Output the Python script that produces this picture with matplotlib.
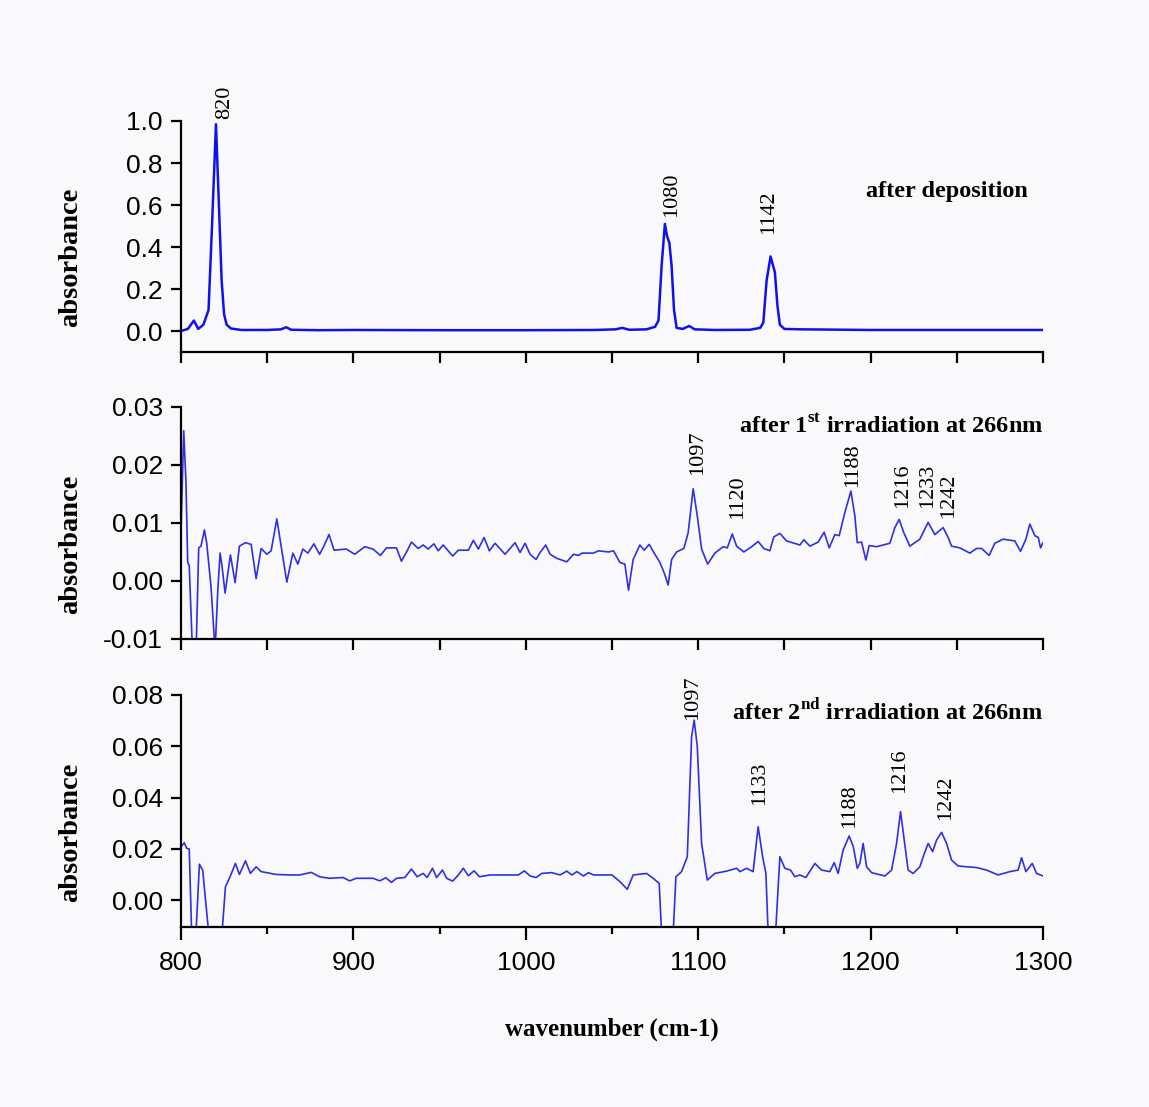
import matplotlib
matplotlib.use("Agg")
import matplotlib.pyplot as plt
from matplotlib.ticker import MultipleLocator

#---------------- data ----------------
# panel 1: after deposition
wn_dep = [800, 804, 807.5, 810, 813, 816, 818, 820.3, 822, 823.6, 825, 826.5, 829, 835,
          850, 858, 861, 864, 880, 900, 950, 1000, 1040, 1052, 1056, 1060, 1070, 1075,
          1077, 1078.8, 1080.7, 1082, 1083.3, 1084.6, 1086, 1087.5, 1091, 1094.8, 1098,
          1110, 1130, 1136, 1137.8, 1139.7, 1142, 1144.5, 1146, 1147.4, 1150, 1160,
          1200, 1250, 1300]
abs_dep = [0.0, 0.01, 0.05, 0.01, 0.03, 0.1, 0.5, 0.985, 0.6, 0.24, 0.08, 0.03, 0.012, 0.005,
           0.005, 0.008, 0.018, 0.006, 0.004, 0.005, 0.004, 0.004, 0.005, 0.008, 0.015, 0.006,
           0.008, 0.02, 0.05, 0.31, 0.51, 0.45, 0.42, 0.31, 0.1, 0.015, 0.01, 0.024, 0.008,
           0.005, 0.006, 0.015, 0.04, 0.24, 0.355, 0.28, 0.12, 0.03, 0.01, 0.008,
           0.005, 0.005, 0.005]

# panel 2: after 1st irradiation
wn_irr1 = [800, 801.6, 802.9, 803.9, 804.8, 806.4, 808.7, 810.3, 811.6, 813.6, 814.9, 817.4,
           819.8, 821.3, 822.7, 823.8, 825.6, 828.7, 831.4, 833.9, 837.4, 840.7, 843.6,
           846.5, 849.8, 852.3, 855.6, 858.1, 861.4, 864.9, 867.8, 870.7, 873.6, 877.1,
           880.4, 882.9, 885.9, 888.8, 895.9, 900.8, 906.6, 911.4, 915.7, 919.2, 925,
           927.9, 931.2, 933.7, 937.6, 940.5, 943.4, 946.7, 949.2, 952.1, 957.6, 960.9,
           966.7, 969.6, 972.5, 975.8, 978.9, 982.2, 988, 993.8, 996.7, 999.6, 1002.5,
           1006, 1008.3, 1011.6, 1014.1, 1018, 1023.8, 1027.7, 1030.6, 1032.6, 1039.3,
           1042.2, 1048.1, 1050.9, 1054.6, 1057.5, 1059.6, 1062.3, 1066.2, 1068.7, 1071.6,
           1074.9, 1077.8, 1080.3, 1082.6, 1084.6, 1087.5, 1091.7, 1094.2, 1097.1, 1099.5,
           1102, 1105.5, 1109.7, 1114.5, 1116.9, 1119.8, 1122.3, 1126.5, 1131, 1134.8,
           1138.1, 1141.6, 1143.9, 1147.4, 1151.3, 1159, 1161.3, 1164.8, 1169.6, 1173.1,
           1176, 1179.3, 1181.8, 1185.1, 1188.6, 1190.9, 1192.3, 1194.8, 1197.3, 1199.2,
           1203.5, 1211.2, 1214.1, 1216.6, 1219.3, 1222.8, 1228.6, 1233.4, 1237.3, 1242.1,
           1245, 1247, 1251.8, 1257.6, 1261.5, 1264.4, 1268.8, 1272.1, 1276.9, 1283.7,
           1287, 1290.1, 1292.4, 1295.3, 1297.3, 1298.6, 1300]
abs_irr1 = [0.008, 0.0259, 0.017, 0.0032, 0.0026, -0.01, -0.013, 0.0057, 0.006, 0.0088, 0.0066,
            -0.0009, -0.012, -0.002, 0.0048, 0.0026, -0.0021, 0.0045, -0.0003, 0.006, 0.0066,
            0.0063, 0.0004, 0.0056, 0.0046, 0.0052, 0.0107, 0.006, -0.0002, 0.0048, 0.0029,
            0.0055, 0.0048, 0.0064, 0.0046, 0.006, 0.008, 0.0053, 0.0055, 0.0046, 0.0059,
            0.0055, 0.0044, 0.0057, 0.0057, 0.0034, 0.0052, 0.0067, 0.0056, 0.0062, 0.0055,
            0.0064, 0.0052, 0.0062, 0.0043, 0.0053, 0.0053, 0.007, 0.0055, 0.0075, 0.0052,
            0.0065, 0.0046, 0.0066, 0.0049, 0.0065, 0.0046, 0.0037, 0.0049, 0.0062, 0.0046,
            0.0039, 0.0033, 0.0046, 0.0044, 0.0048, 0.0048, 0.0052, 0.005, 0.0052, 0.0032,
            0.0029, -0.0016, 0.0037, 0.0062, 0.0053, 0.0063, 0.0046, 0.0032, 0.0014, -0.0007,
            0.0037, 0.005, 0.0056, 0.0083, 0.0159, 0.0112, 0.0055, 0.0029, 0.0048, 0.0059,
            0.0057, 0.0081, 0.006, 0.005, 0.0059, 0.0068, 0.0056, 0.0052, 0.0076, 0.0082,
            0.0069, 0.0062, 0.0071, 0.006, 0.0067, 0.0084, 0.0057, 0.008, 0.0078, 0.0118,
            0.0155, 0.0112, 0.0066, 0.0067, 0.0036, 0.0061, 0.0059, 0.0065, 0.0092, 0.0106,
            0.0083, 0.006, 0.0072, 0.0101, 0.008, 0.0092, 0.0075, 0.006, 0.0057, 0.0048,
            0.0056, 0.0056, 0.0044, 0.0065, 0.0072, 0.0069, 0.0051, 0.0072, 0.0098, 0.0078,
            0.0075, 0.0057, 0.0066]

# panel 3: after 2nd irradiation
wn_irr2 = [800, 801.9, 803.3, 804.8, 806.2, 808.7, 810.7, 812.6, 814.1, 816.1, 823.8, 825.8,
           828.1, 831.6, 833.9, 837.4, 840.3, 843.6, 846.5, 855.2, 863, 868.8, 875.6, 880.4,
           886.2, 894, 897.9, 901.7, 911.4, 915.3, 918.8, 922.1, 925, 929.8, 933.7, 937,
           940.5, 942.8, 945.9, 948.3, 951.7, 954.1, 957.6, 960.9, 963.8, 966.7, 970, 973.1,
           979.3, 987, 995.7, 999.2, 1002.5, 1006, 1009.3, 1015.1, 1019.9, 1023.8, 1026.7,
           1029.7, 1033.5, 1036.4, 1039.3, 1050, 1054.6, 1058.9, 1062.3, 1070.1, 1073.9,
           1077.4, 1078.8, 1085.5, 1087.1, 1090.4, 1093.7, 1096.2, 1097.7, 1099.5, 1102,
           1105.3, 1109.7, 1116.5, 1122.3, 1124.2, 1128.1, 1131.9, 1134.8, 1137.4, 1139.3,
           1140.6, 1144.9, 1147.4, 1150.3, 1153.6, 1156.1, 1159, 1162.5, 1167.7, 1171.6,
           1176.4, 1178.9, 1181.2, 1184.1, 1187.6, 1190, 1192.3, 1193.8, 1195.7, 1197.7,
           1200.6, 1208.3, 1212.2, 1215.1, 1217.4, 1219.3, 1221.8, 1224.7, 1228.6, 1230.9,
           1233.4, 1236, 1238.3, 1241.2, 1244.1, 1247, 1250.8, 1255.7, 1261.5, 1267.3, 1274,
           1280.8, 1285.6, 1287.6, 1290.1, 1293.8, 1296.3, 1300]
abs_irr2 = [0.0208, 0.0224, 0.0202, 0.0199, -0.013, -0.013, 0.014, 0.0117, 0.0013, -0.013,
            -0.013, 0.0052, 0.0085, 0.0143, 0.01, 0.0153, 0.0104, 0.013, 0.0111, 0.01, 0.0098,
            0.0098, 0.0108, 0.0091, 0.0085, 0.0088, 0.0075, 0.0085, 0.0085, 0.0075, 0.0087,
            0.0069, 0.0085, 0.0088, 0.0121, 0.0091, 0.0104, 0.0088, 0.0124, 0.0088, 0.0117,
            0.0085, 0.0074, 0.0098, 0.0124, 0.0095, 0.0114, 0.0091, 0.0098, 0.0098, 0.0098,
            0.0114, 0.0094, 0.0088, 0.0104, 0.0107, 0.0098, 0.0113, 0.0098, 0.0111, 0.0094,
            0.0107, 0.0098, 0.0098, 0.0072, 0.0042, 0.0098, 0.0104, 0.0085, 0.0065, -0.013,
            -0.013, 0.0091, 0.0111, 0.0169, 0.0637, 0.0702, 0.0598, 0.0221, 0.0078, 0.0104,
            0.0113, 0.0124, 0.0111, 0.0124, 0.0111, 0.0286, 0.0169, 0.0104, -0.013, -0.013,
            0.0169, 0.0124, 0.0117, 0.0091, 0.0098, 0.0088, 0.0143, 0.0117, 0.0111, 0.0146,
            0.0104, 0.0195, 0.025, 0.0208, 0.0124, 0.0143, 0.0221, 0.013, 0.0107, 0.0094,
            0.0117, 0.0221, 0.0345, 0.0247, 0.0117, 0.0104, 0.013, 0.0176, 0.0221, 0.0189,
            0.0234, 0.0264, 0.0221, 0.0156, 0.0133, 0.013, 0.0127, 0.0117, 0.0098, 0.0111,
            0.0117, 0.0165, 0.0111, 0.0143, 0.0104, 0.0094]

# peak labels (text, x, y of label bottom)
labels_dep = [("820", 825.5, 1.008), ("1080", 1084.5, 0.543), ("1142", 1140.8, 0.462)]
labels_irr1 = [("1097", 1099.6, 0.0183), ("1120", 1123, 0.0107), ("1188", 1189.5, 0.0162),
               ("1216", 1218.5, 0.0125), ("1233", 1233.3, 0.0125), ("1242", 1245.5, 0.0108)]
labels_irr2 = [("1097", 1097, 0.0702), ("1133", 1135.8, 0.0371), ("1188", 1188, 0.028),
               ("1216", 1217, 0.0416), ("1242", 1243.5, 0.0312)]

#---------------- style ----------------
plt.rcParams['mathtext.fontset'] = 'custom'
plt.rcParams['mathtext.rm'] = 'Liberation Serif'
plt.rcParams['mathtext.bf'] = 'Liberation Serif:bold'

TICKFONT = 'Liberation Sans'
SERIF = 'Liberation Serif'
BG = '#f9f9fb'

fig = plt.figure(figsize=(11.49, 11.07), dpi=100, facecolor=BG)
ax1 = fig.add_axes([0.1575, 0.682, 0.7502, 0.2087])
ax2 = fig.add_axes([0.1575, 0.4228, 0.7502, 0.2096])
ax3 = fig.add_axes([0.1575, 0.1626, 0.7502, 0.2096])

ax1.plot(wn_dep, abs_dep, color='#1010ee', lw=1.8)
ax2.plot(wn_irr1, abs_irr1, color='#3030e0', lw=1.2)
ax3.plot(wn_irr2, abs_irr2, color='#3030e0', lw=1.2)

ax1.set_ylim(-0.1, 1.0)
ax1.set_yticks([0.0, 0.2, 0.4, 0.6, 0.8, 1.0])
ax1.set_yticklabels(['0.0', '0.2', '0.4', '0.6', '0.8', '1.0'])
ax2.set_ylim(-0.01, 0.03)
ax2.set_yticks([-0.01, 0.0, 0.01, 0.02, 0.03])
ax2.set_yticklabels(['-0.01', '0.00', '0.01', '0.02', '0.03'])
ax3.set_ylim(-0.0105, 0.08)
ax3.set_yticks([0.0, 0.02, 0.04, 0.06, 0.08])
ax3.set_yticklabels(['0.00', '0.02', '0.04', '0.06', '0.08'])

for ax in (ax1, ax2, ax3):
    ax.set_facecolor('none')
    ax.set_xlim(800, 1300)
    ax.spines['top'].set_visible(False)
    ax.spines['right'].set_visible(False)
    ax.spines['left'].set_linewidth(1.6)
    ax.spines['bottom'].set_linewidth(1.6)
    ax.tick_params(axis='y', direction='out', length=7, width=1.6, pad=6, labelsize=19)
    for t in ax.get_yticklabels():
        t.set_family(TICKFONT)
    ax.set_ylabel('absorbance', family=SERIF, fontweight='bold', fontsize=20.5)
    ax.yaxis.set_label_coords(-0.113, 0.41)

# upper panels: ticks every 50, no labels
for ax in (ax1, ax2):
    ax.xaxis.set_major_locator(MultipleLocator(50))
    ax.tick_params(axis='x', direction='out', length=8, width=1.6, labelbottom=False)

ax3.xaxis.set_major_locator(MultipleLocator(100))
ax3.xaxis.set_minor_locator(MultipleLocator(50))
ax3.tick_params(axis='x', which='major', direction='out', length=9, width=1.6, pad=8, labelsize=19)
ax3.tick_params(axis='x', which='minor', direction='out', length=5, width=1.6)
for t in ax3.get_xticklabels():
    t.set_family(TICKFONT)
ax3.set_xlabel('wavenumber (cm-1)', family=SERIF, fontweight='bold', fontsize=18, labelpad=31)

# peak labels
for ax, labs in ((ax1, labels_dep), (ax2, labels_irr1), (ax3, labels_irr2)):
    for txt, x, y in labs:
        ax.text(x, y, txt, rotation=90, ha='center', va='bottom', family=SERIF, fontsize=16,
                clip_on=False)

# panel titles
ax1.text(1291, 0.663, 'after deposition', ha='right', va='center', family=SERIF,
         fontweight='bold', fontsize=17.5)
ax2.text(1300, 0.0266, r'after 1$^{\mathbf{st}}$ irradiation at 266nm', ha='right', va='center',
         family=SERIF, fontweight='bold', fontsize=17.5)
ax3.text(1300, 0.0735, r'after 2$^{\mathbf{nd}}$ irradiation at 266nm', ha='right', va='center',
         family=SERIF, fontweight='bold', fontsize=17.5)

fig.savefig('out.png', dpi=100, facecolor=BG)
